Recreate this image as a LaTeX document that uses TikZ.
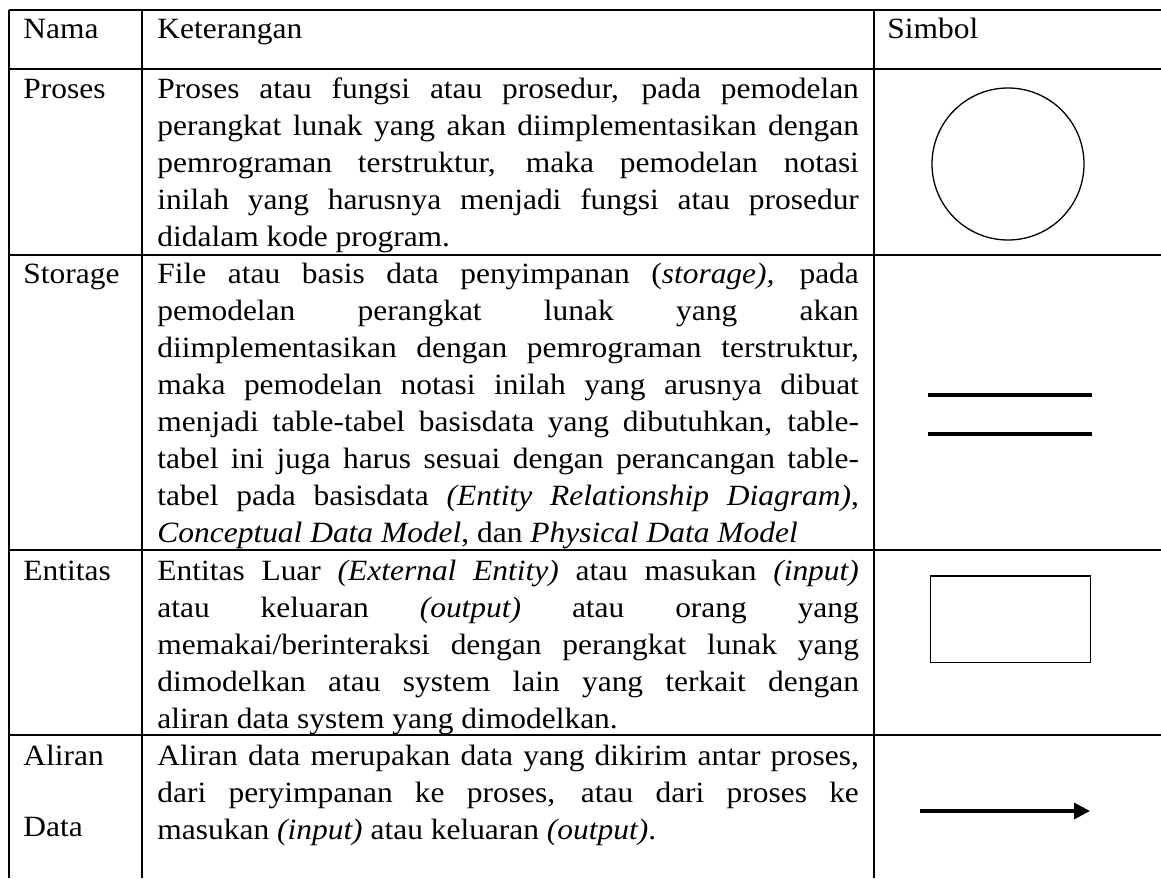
\documentclass[tikz,border=0pt]{standalone}
\usepackage{fontspec}
\setmainfont{Liberation Serif}[FakeStretch=1.07]
\usetikzlibrary{arrows.meta}
\hyphenpenalty=10000
\tolerance=10000

\begin{document}
\begin{tikzpicture}[
  x=0.5pt, y=-0.5pt,
  font=\fontsize{14.7pt}{18.5pt}\selectfont,
  grid/.style={line width=1.1pt, draw=black},
  namecell/.style={anchor=base west, inner sep=0pt, text width=110pt, align=left},
  desc/.style={anchor=base west, inner sep=0pt, text width=350.75pt, align=justify},
  sym/.style={draw=black, inner sep=0pt},
  store/.style={line width=1.6pt, draw=black},
  flow/.style={-{Triangle[length=8pt,width=8pt]}, line width=1.6pt, draw=black}
]
\useasboundingbox (0,0) rectangle (1161,878);

% Table frame (cut off on the right and at the bottom)
\foreach \y in {10,69,255,550,735}
  \draw[grid] (9,\y) -- (1161,\y);
\foreach \x in {9,142,874}
  \draw[grid] (\x,10) -- (\x,878);

% Header row
\node[namecell] (nama)  at (23,38.3)  {Nama};
\node[namecell] (ket)   at (157,38.3) {Keterangan};
\node[namecell] (simb)  at (887,38.3) {Simbol};

% Names
\node[namecell] (nproses)  at (23,98.3) {Proses};
\node[namecell] (nstorage) at (23,283)  {Storage};
\node[namecell] (nentitas) at (23,580)  {Entitas};
\node[namecell] (naliran)  at (23,765)  {Aliran\\[17.4pt]Data};

% Descriptions
\node[desc] (kproses) at (157,98.3) {Proses atau fungsi atau prosedur, pada pemodelan\linebreak
  perangkat lunak yang akan diimplementasikan dengan\linebreak
  pemrograman terstruktur, maka pemodelan notasi\linebreak
  inilah yang harusnya menjadi fungsi atau prosedur\linebreak
  didalam kode program.};
\node[desc] (kstorage) at (157,283) {File atau basis data penyimpanan (\textit{storage),} pada\linebreak
  pemodelan perangkat lunak yang akan\linebreak
  diimplementasikan dengan pemrograman terstruktur,\linebreak
  maka pemodelan notasi inilah yang arusnya dibuat\linebreak
  menjadi table-tabel basisdata yang dibutuhkan, table-\linebreak
  tabel ini juga harus sesuai dengan perancangan table-\linebreak
  tabel pada basisdata \textit{(Entity Relationship Diagram)},\linebreak
  \textit{Conceptual Data Model}, dan \textit{Physical Data Model}};
\node[desc] (kentitas) at (157,580) {Entitas Luar \textit{(External Entity)} atau masukan \textit{(input)}\linebreak
  atau keluaran \textit{(output)} atau orang yang\linebreak
  memakai/berinteraksi dengan perangkat lunak yang\linebreak
  dimodelkan atau system lain yang terkait dengan\linebreak
  aliran data system yang dimodelkan.};
\node[desc] (kaliran) at (157,765) {Aliran data merupakan data yang dikirim antar proses,\linebreak
  dari peryimpanan ke proses, atau dari proses ke\linebreak
  masukan \textit{(input)} atau keluaran \textit{(output)}.};

% Symbols
\node[sym, circle, minimum size=76pt, line width=0.65pt] (sproses) at (1008,164) {};

\coordinate (st1a) at (928,395);
\coordinate (st1b) at (1092,395);
\coordinate (st2a) at (928,434);
\coordinate (st2b) at (1092,434);
\draw[store] (st1a) -- (st1b);
\draw[store] (st2a) -- (st2b);

\node[sym, rectangle, minimum width=80pt, minimum height=43.3pt, line width=0.75pt] (sentitas) at (1010.7,619.3) {};

\coordinate (flowa) at (920,811);
\coordinate (flowb) at (1090,811);
\draw[flow] (flowa) -- (flowb);
\end{tikzpicture}
\end{document}
